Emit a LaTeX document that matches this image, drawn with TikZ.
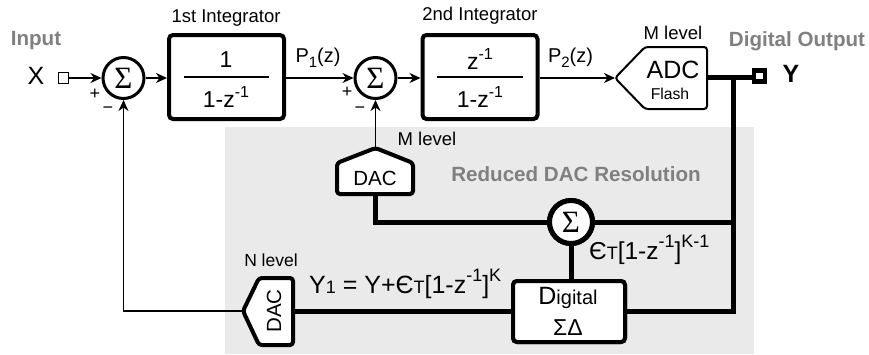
\documentclass[tikz,border=0pt]{standalone}
\usepackage{fontspec}
\setmainfont{Liberation Sans}
\newfontfamily\sigfont{Liberation Serif}
\usetikzlibrary{arrows.meta}
\newcommand\sz[1]{\fontsize{#1}{#1}\selectfont}
\newcommand\upt[2]{\raisebox{.45em}{\sz{#1}#2}}
\newcommand\dnt[2]{\raisebox{-.25em}{\sz{#1}#2}}
\definecolor{bandgray}{HTML}{EAEAEA}
\definecolor{lab}{HTML}{808080}
\tikzset{
 x=1pt,y=-1pt,
 thin line/.style={line width=1.4pt},
 sig line/.style={thin line,-{Stealth[length=11pt,width=10pt,inset=3.5pt]}},
 thick line/.style={line width=5pt},
 sumnode/.style={circle,draw,fill=white,line width=3pt,minimum size=41pt,inner sep=0pt,font=\sigfont\sz{31}},
 sumthick/.style={sumnode,line width=5pt,minimum size=43pt},
 intbox/.style={draw,fill=white,line width=4pt,rounded corners=4pt,minimum width=115pt,minimum height=84pt,inner sep=0pt},
 digbox/.style={draw,fill=white,line width=4pt,rounded corners=4pt,minimum width=112pt,minimum height=61pt,inner sep=0pt},
 lbl/.style={inner sep=0pt,font=\sz{18.5}},
 head/.style={inner sep=0pt,font=\bfseries\sz{20.6},text=lab},
 frac/.style={inner sep=0pt,font=\sz{23}},
 pent/.style={draw,fill=white,line join=round,rounded corners=3pt},
}
\begin{document}
\begin{tikzpicture}
\useasboundingbox (0,0) rectangle (869,354);
\fill[bandgray] (225,127) rectangle (754,354);
% main nodes
\node[draw,fill=white,line width=1.4pt,minimum size=10.5pt,inner sep=0pt] (insq) at (63.5,78) {};
\node[sumnode] (sumA) at (123.5,78) {\char"03A3};
\node[intbox] (intA) at (226.5,77) {};
\node[sumnode] (sumB) at (375.5,78) {\char"03A3};
\node[intbox] (intB) at (480,77) {};
\coordinate (sumCc) at (571,222);
\node[sumthick] (sumC) at (sumCc) {};
\node[digbox] (dig) at (569,311.5) {};
\coordinate (adctip) at (615,78);
\coordinate (adcout) at (707,77);
\coordinate (dacmtop) at (375.5,148);
\coordinate (dacmbot) at (375,194);
\coordinate (dacntip) at (243,311);
\coordinate (dacnout) at (293,311);
\coordinate (tap) at (733,77);
\coordinate (tapsum) at (733,222);
\coordinate (tapdig) at (733,311);
\coordinate (corner) at (123.5,311);
\coordinate (cornerm) at (375,222);
% output square
\node[draw,fill=white,line width=4.5pt,minimum size=11pt,inner sep=0pt] (outsq) at (759.5,76) {};
% thick paths
\draw[thick line] (adcout) -- (outsq.west |- adcout);
\draw[thick line,line cap=rect] (tap) -- (tapdig);
\draw[thick line] (sumC) -- (tapsum);
\draw[thick line] (dig.east |- tapdig) -- (tapdig);
\draw[thick line,line join=miter] (dacmbot) -- (cornerm) -- (sumCc);
\draw[thick line] (sumCc) -- (dig.north -| sumCc);
\draw[thick line] (dacnout) -- (dig.west |- dacnout);
\node[sumthick] (sumCtop) at (sumCc) {\char"03A3};
\node[digbox] (digtop) at (dig) {};
% thin connectors
\draw[sig line] (insq) -- (sumA);
\draw[sig line] (sumA) -- (intA.west |- sumA);
\draw[sig line] (intA.east |- sumB) -- (sumB);
\draw[sig line] (sumB) -- (intB.west |- sumB);
\draw[sig line] (intB.east |- adctip) -- (adctip);
\draw[sig line] (dacmtop) -- (sumB);
\draw[sig line,line join=miter] (dacntip) -- (corner) -- (sumA);
% ADC
\draw[pent,line width=2pt] (adctip) -- (645,47) -- (707,47) -- (707,109) -- (645,109) -- cycle;
\node[inner sep=0pt,font=\sz{25}] (adct) at (673,70) {ADC};
\node[inner sep=0pt,font=\sz{15.7}] (flash) at (670,94) {Flash};
% DAC M
\draw[pent,line width=4pt] (dacmtop) -- (413,163) -- (413,194) -- (337,194) -- (337,163) -- cycle;
\node[inner sep=0pt,font=\sz{20.5}] (dacm) at (375,178) {DAC};
% DAC N
\draw[pent,line width=4pt] (dacntip) -- (259,278) -- (293,278) -- (293,345) -- (259,345) -- cycle;
\node[inner sep=0pt,font=\sz{20.5},rotate=90] (dacn) at (274,311) {DAC};
% fractions
\node[frac] (numA) at (226,60) {1};
\draw[thin line] (184,77) -- (269,77);
\node[frac] (denA) at (226,97) {1-z\upt{16}{-1}};
\node[frac] (numB) at (480,59) {z\upt{16}{-1}};
\draw[thin line] (437,77) -- (523,77);
\node[frac] (denB) at (480,97) {1-z\upt{16}{-1}};
% labels
\node[lbl] (ia) at (226,18) {1st Integrator};
\node[lbl] (ib) at (480,16) {2nd Integrator};
\node[head] (inp) at (36,41) {Input};
\node[head] (dout) at (797,41) {Digital Output};
\node[inner sep=0pt,font=\sz{25}] (xl) at (36,76) {X};
\node[inner sep=0pt,font=\bfseries\sz{25}] (yl) at (791,74) {Y};
\node[inner sep=0pt,font=\sz{20}] (pa) at (318,58) {P\dnt{15}{1}(z)};
\node[inner sep=0pt,font=\sz{20}] (pb) at (570.5,58) {P\dnt{15}{2}(z)};
\node[lbl] (ml) at (673,33) {M level};
\node[lbl] (mm) at (427,139) {M level};
\node[lbl,font=\sz{17.5}] (nl) at (271,260) {N level};
\node[head] (red) at (576,174) {Reduced DAC Resolution};
\node[inner sep=0pt,font=\sz{18}] (pa1) at (95,94) {+};
\node[inner sep=0pt,font=\sz{18}] (ma1) at (108,110) {\char"2212};
\node[inner sep=0pt,font=\sz{18}] (pa2) at (347,92) {+};
\node[inner sep=0pt,font=\sz{18}] (ma2) at (360,110) {\char"2212};
\node[inner sep=0pt,font=\sz{25},anchor=base west] (yone) at (309,293) {Y{\sz{18}1} = Y+Є{\sz{18}T}[1-z\upt{18}{-1}]\upt{18}{K}};
\node[inner sep=0pt,font=\sz{24.5},anchor=base west] (err) at (589,259) {Є{\sz{18}T}[1-z\upt{18}{-1}]\upt{18}{K-1}};
\node[inner sep=0pt,anchor=base] (dg) at (568,304) {\sz{25}D\sz{20}igital};
\node[inner sep=0pt,font=\sz{23}] (sd) at (568,328) {ΣΔ};
\end{tikzpicture}
\end{document}
